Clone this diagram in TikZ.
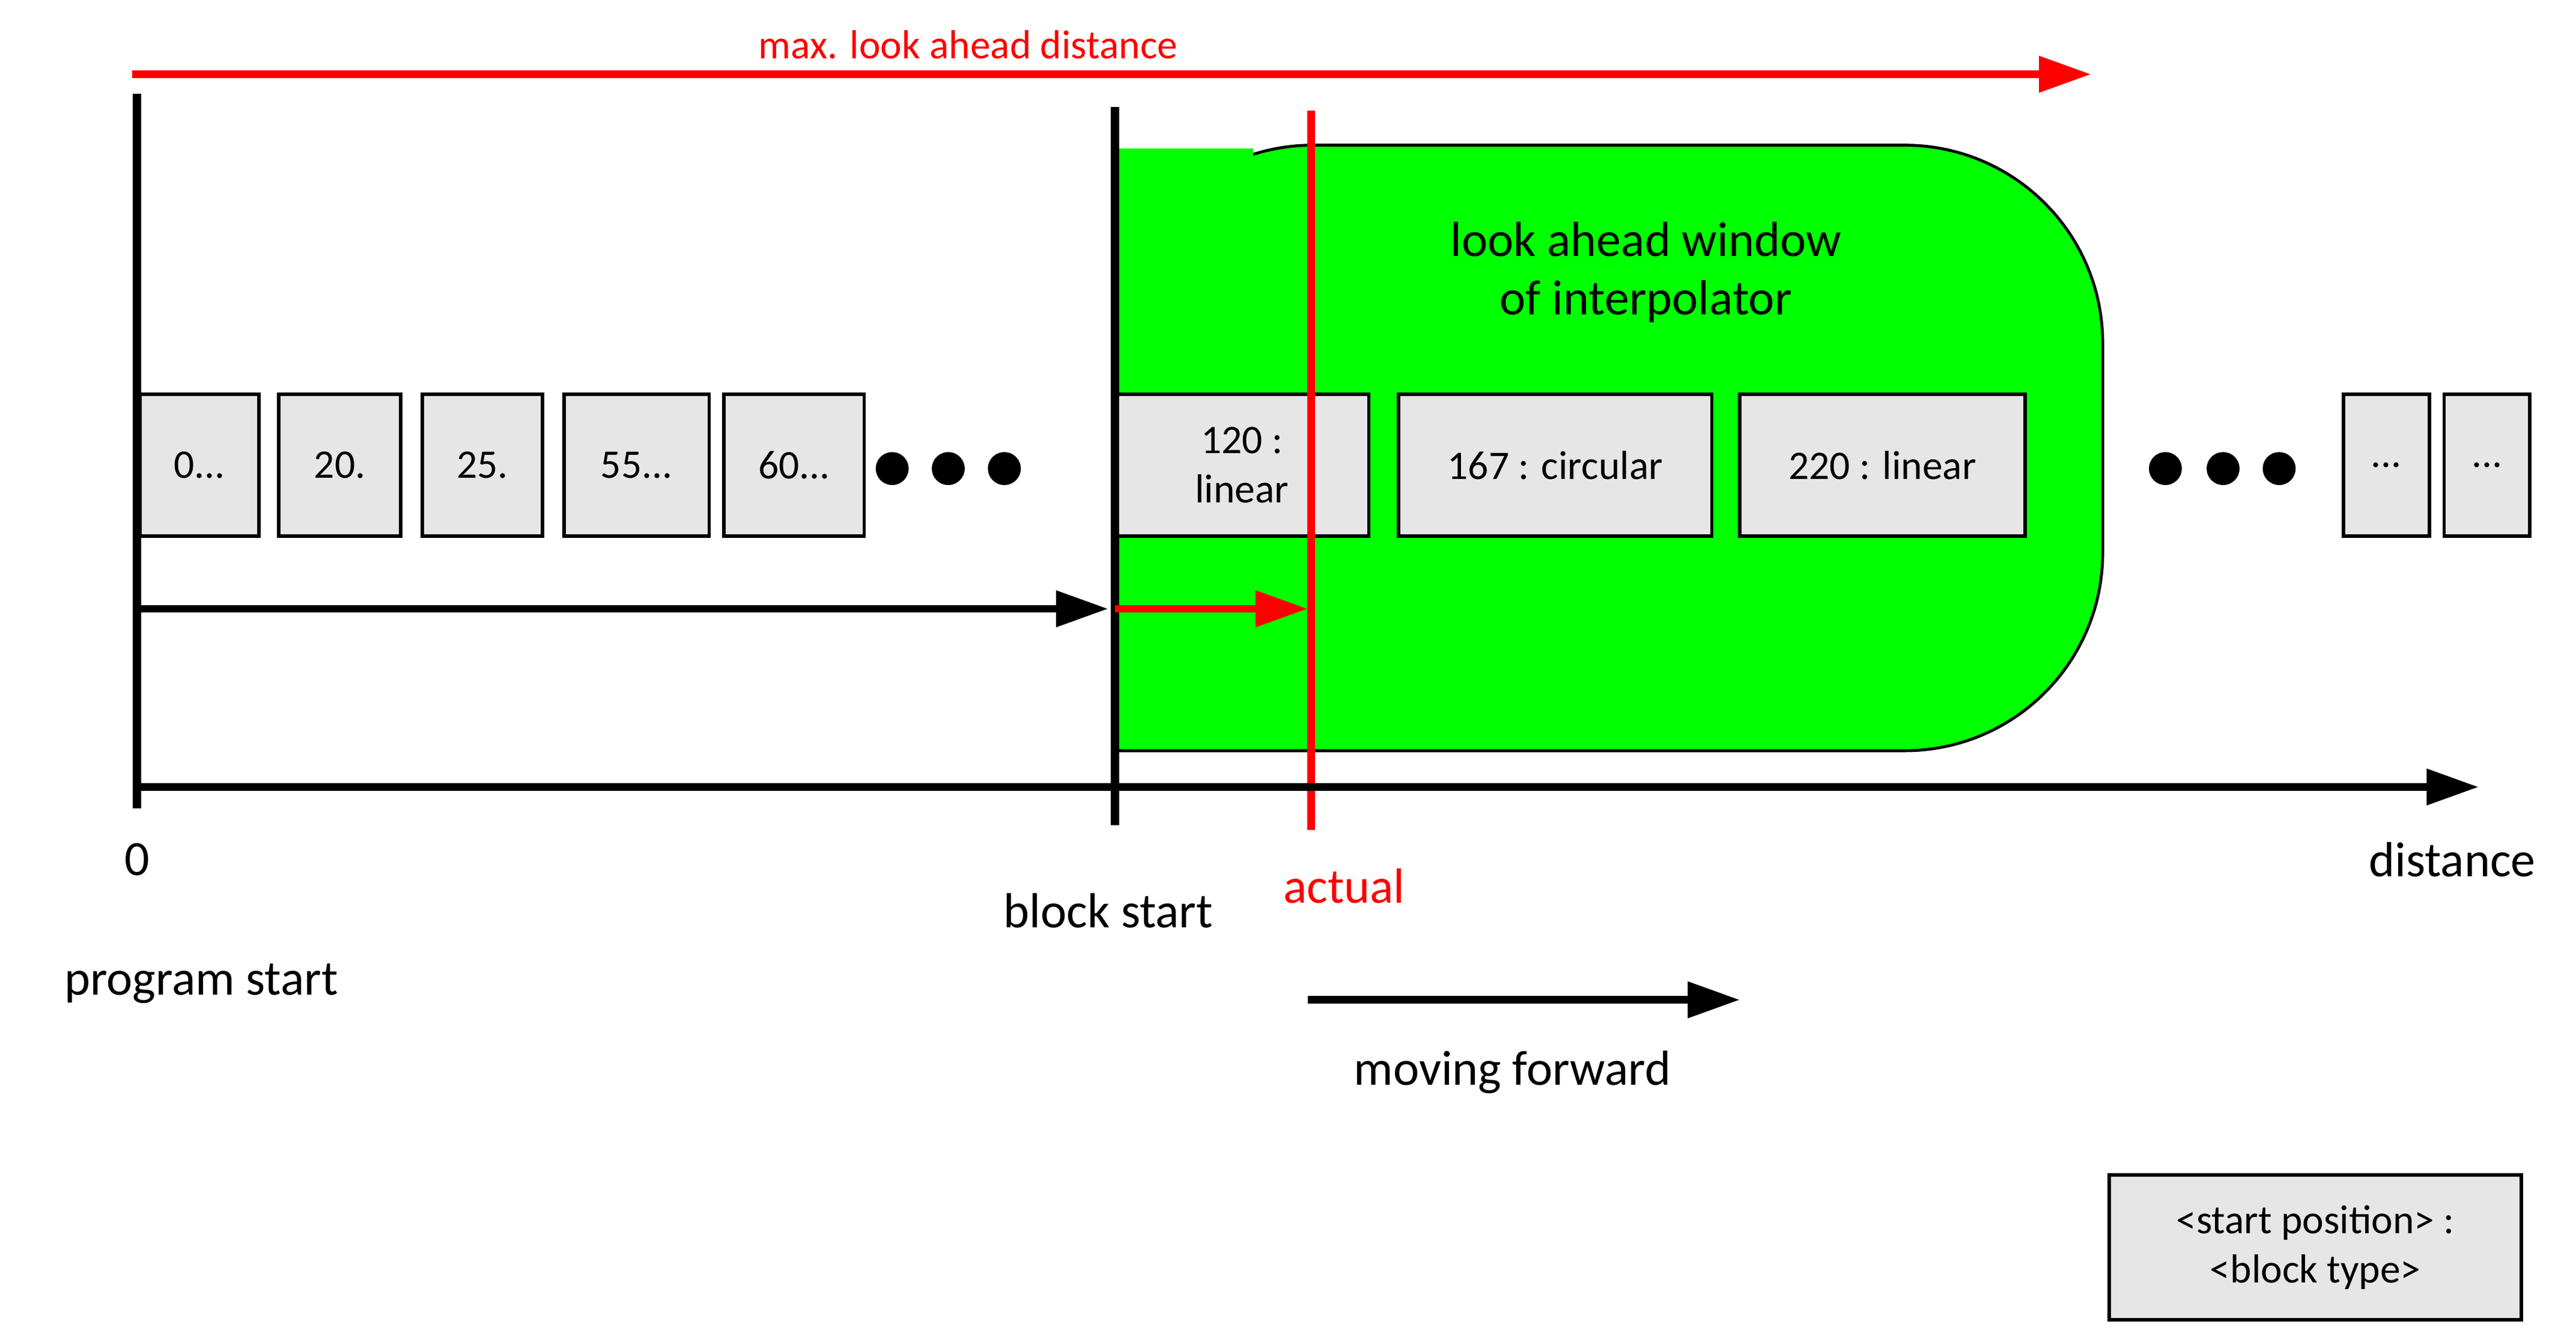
\documentclass[tikz,border=0pt]{standalone}
\usepackage{fontspec}
\setmainfont{Carlito}
\usetikzlibrary{arrows.meta,calc}
\definecolor{winGreen}{RGB}{0,255,0}
\definecolor{blkGray}{RGB}{230,230,230}
\newcommand{\trdots}{.\kern0pt.\kern0pt.}
\begin{document}
\begin{tikzpicture}[x=0.02cm,y=-0.02cm]

        \tikzset{
            blockbox/.style={draw,rectangle,fill=blkGray,line width=1.2pt,align=center,inner sep=0pt,font=\fontsize{14}{17}\selectfont},
            bigarrow/.style={line width=2.6pt,-{Triangle[length=18pt,width=12pt]}},
            thickline/.style={line width=2.8pt},
            lbl/.style={font=\fontsize{17}{20}\selectfont,inner sep=0pt}
        }
        \useasboundingbox (0,0) rectangle (1562,806);

        % look ahead window
        \draw[fill=winGreen,line width=1pt,rounded corners=2.4cm] (676,455) -- (676,88) -- (1275,88) -- (1275,455) -- (676,455);
        \draw[fill=winGreen,draw=none] (678,90) rectangle (760,453);
        \node[lbl,align=center] (window) at (998,165) {look ahead window\\of interpolator};

        % blocks
        \foreach \name / \xa / \xb / \txt in {b0/85/157/{0\trdots},b1/169/243/{20.},b2/256/329/{25.},b3/342/430/{55\trdots},b4/439/524/{60\trdots},b5/676/830/{120 :\\linear},b6/848/1038/{167 : circular},b7/1055/1228/{220 : linear},b8/1421/1473/{\trdots},b9/1482/1534/{\trdots}} {
            \node[blockbox,minimum width=(\xb-\xa)*0.02cm,minimum height=1.72cm] (\name) at ({(\xa+\xb)/2},282) {\txt};
        }
        \foreach \x in {541,575,609,1313,1348,1382} {
            \fill (\x,284) circle (0.2cm);
        }

        % vertical markers
        \draw[thickline] (83,57) -- (83,490);
        \draw[thickline] (676,65) -- (676,500);
        \draw[thickline,red] (795,67) -- (795,503);

        % arrows
        \coordinate (progStart) at (85,369);
        \coordinate (blockStart) at (672,369);
        \draw[bigarrow] (progStart) -- (blockStart);
        \coordinate (blockIn) at (676,369);
        \coordinate (actualPos) at (793,369);
        \draw[bigarrow,red] (blockIn) -- (actualPos);
        \coordinate (axisStart) at (85,477);
        \coordinate (axisEnd) at (1503,477);
        \draw[bigarrow] (axisStart) -- (axisEnd);
        \coordinate (maxStart) at (80,45);
        \coordinate (maxEnd) at (1268,45);
        \draw[bigarrow,red] (maxStart) -- (maxEnd);
        \coordinate (moveStart) at (793,606);
        \coordinate (moveEnd) at (1055,606);
        \draw[bigarrow] (moveStart) -- (moveEnd);

        % labels
        \node[lbl,red,font=\fontsize{14}{17}\selectfont] (maxLbl) at (587,27) {max. look ahead distance};
        \node[lbl] (zero) at (83,521) {0};
        \node[lbl] (blockLbl) at (672,552) {block start};
        \node[lbl,red] (actualLbl) at (815,537) {actual};
        \node[lbl] (distLbl) at (1487,521) {distance};
        \node[lbl] (progLbl) at (122,596) {program start};
        \node[lbl] (moveLbl) at (917,650) {moving forward};

        % legend
        \node[blockbox,minimum width=5cm,minimum height=1.76cm] (legend) at (1404,756) {<start position> :\\<block type>};

\end{tikzpicture}
\end{document}
